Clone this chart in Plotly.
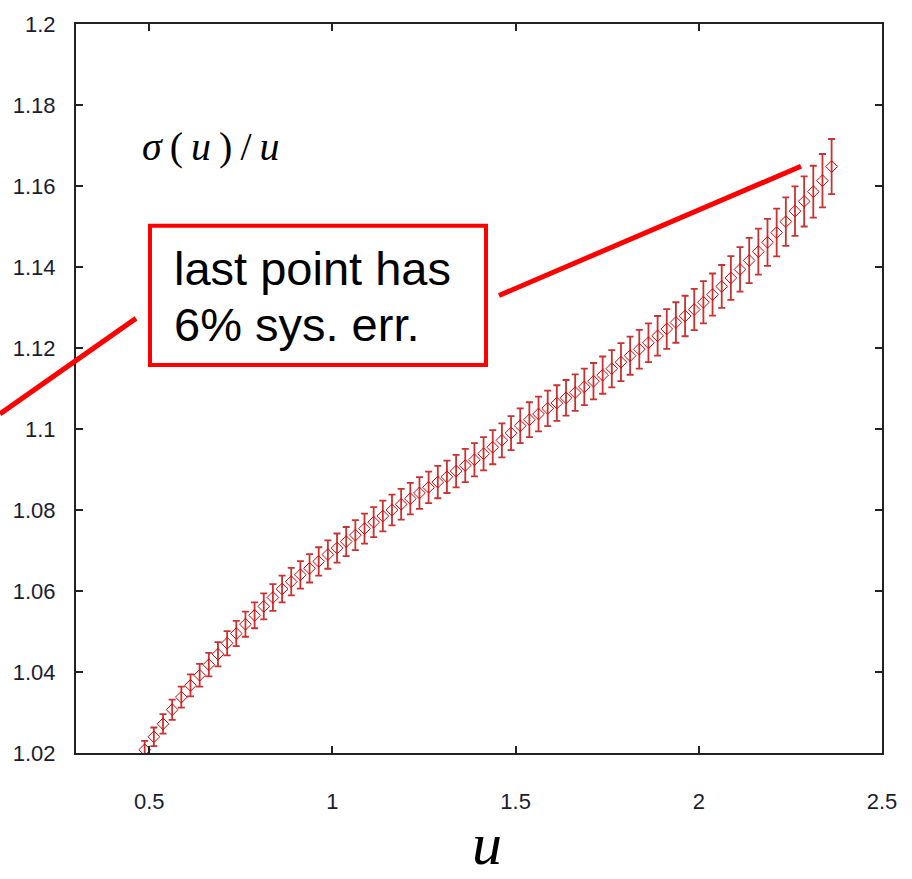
import plotly.graph_objects as go

u_vals = [0.4875, 0.5125, 0.5375, 0.5625, 0.5875, 0.6125, 0.6375, 0.6625, 0.6875, 0.7125,
          0.7375, 0.7625, 0.7875, 0.8125, 0.8375, 0.8625, 0.8875, 0.9125, 0.9375, 0.9625,
          0.9875, 1.0125, 1.0375, 1.0625, 1.0875, 1.1125, 1.1375, 1.1625, 1.1875, 1.2125,
          1.2375, 1.2625, 1.2875, 1.3125, 1.3375, 1.3625, 1.3875, 1.4125, 1.4375, 1.4625,
          1.4875, 1.5125, 1.5375, 1.5625, 1.5875, 1.6125, 1.6375, 1.6625, 1.6875, 1.7125,
          1.7375, 1.7625, 1.7875, 1.8125, 1.8375, 1.8625, 1.8875, 1.9125, 1.9375, 1.9625,
          1.9875, 2.0125, 2.0375, 2.0625, 2.0875, 2.1125, 2.1375, 2.1625, 2.1875, 2.2125,
          2.2375, 2.2625, 2.2875, 2.3125, 2.3375, 2.3625]

sigma_over_u = [1.0208, 1.0240, 1.0272, 1.0307, 1.0338, 1.0367, 1.0392, 1.0418, 1.0444, 1.0471,
                1.0495, 1.0518, 1.0540, 1.0562, 1.0584, 1.0605, 1.0623, 1.0640, 1.0656, 1.0673,
                1.0690, 1.0706, 1.0722, 1.0738, 1.0754, 1.0770, 1.0785, 1.0800, 1.0814, 1.0828,
                1.0842, 1.0856, 1.0869, 1.0882, 1.0896, 1.0910, 1.0924, 1.0939, 1.0955, 1.0972,
                1.0990, 1.1008, 1.1023, 1.1037, 1.1051, 1.1064, 1.1077, 1.1090, 1.1104, 1.1118,
                1.1133, 1.1149, 1.1165, 1.1181, 1.1197, 1.1213, 1.1230, 1.1247, 1.1263, 1.1279,
                1.1295, 1.1313, 1.1332, 1.1352, 1.1373, 1.1394, 1.1416, 1.1438, 1.1461, 1.1485,
                1.1512, 1.1538, 1.1562, 1.1586, 1.1613, 1.1648]

errors = [0.0022, 0.0023, 0.0024, 0.0025, 0.0026, 0.0027, 0.0028, 0.0029, 0.0030, 0.0030,
          0.0031, 0.0031, 0.0032, 0.0032, 0.0033, 0.0033, 0.0034, 0.0034, 0.0035, 0.0035,
          0.0035, 0.0036, 0.0036, 0.0037, 0.0037, 0.0037, 0.0038, 0.0038, 0.0038, 0.0039,
          0.0039, 0.0039, 0.0040, 0.0040, 0.0040, 0.0041, 0.0041, 0.0041, 0.0042, 0.0042,
          0.0042, 0.0043, 0.0043, 0.0043, 0.0044, 0.0044, 0.0044, 0.0045, 0.0045, 0.0045,
          0.0046, 0.0046, 0.0047, 0.0047, 0.0048, 0.0048, 0.0049, 0.0049, 0.0050, 0.0050,
          0.0051, 0.0052, 0.0052, 0.0053, 0.0054, 0.0055, 0.0056, 0.0057, 0.0058, 0.0059,
          0.0060, 0.0061, 0.0062, 0.0064, 0.0066, 0.0068]

x_ticks = [0.5, 1, 1.5, 2, 2.5]
y_ticks = [1.02, 1.04, 1.06, 1.08, 1.1, 1.12, 1.14, 1.16, 1.18, 1.2]

tick_font = dict(family="Liberation Sans Narrow, Liberation Sans, Arial, sans-serif",
                 size=22, color="#1c1c2e")

fig = go.Figure()
fig.add_trace(go.Scatter(
    x=u_vals, y=sigma_over_u, mode="markers",
    marker=dict(symbol="diamond-open", size=9, color="#e00000", line=dict(width=1, color="#e00000")),
    error_y=dict(type="data", array=errors, visible=True, color="#c83232", thickness=1.8, width=3.5),
    showlegend=False,
))

fig.update_layout(
    width=912, height=879,
    margin=dict(l=76, r=30, t=20, b=126),
    paper_bgcolor="white", plot_bgcolor="white",
    xaxis=dict(range=[0.3, 2.5], tickvals=x_ticks, ticks="inside", ticklen=7, tickwidth=2,
               tickcolor="#222", showline=True, linecolor="#222", linewidth=2, mirror="ticks",
               showgrid=False, zeroline=False, tickfont=tick_font, ticklabelstandoff=28),
    yaxis=dict(range=[1.02, 1.2], tickvals=y_ticks, ticks="inside", ticklen=7, tickwidth=2,
               tickcolor="#222", showline=True, linecolor="#222", linewidth=2, mirror="ticks",
               showgrid=False, zeroline=False, tickfont=tick_font, ticklabelstandoff=14),
)

red = "#ff0000"
fig.add_shape(type="rect", xref="paper", yref="paper", x0=0.0918, x1=0.5087, y0=0.5321, y1=0.7231,
              line=dict(color=red, width=4), fillcolor="rgba(0,0,0,0)", layer="above")
fig.add_shape(type="line", xref="paper", yref="paper", x0=-0.0943, y0=0.4652, x1=0.0744, y1=0.5962,
              line=dict(color=red, width=5), layer="above")
fig.add_shape(type="line", xref="paper", yref="paper", x0=0.5248, y0=0.6276, x1=0.8995, y1=0.8049,
              line=dict(color=red, width=5), layer="above")

box_font = dict(family="Liberation Sans, Arial, sans-serif", size=47, color="black")
fig.add_annotation(xref="paper", yref="paper", x=0.1191, y=0.6644, xanchor="left", yanchor="middle",
                   text="last point has", showarrow=False, font=box_font)
fig.add_annotation(xref="paper", yref="paper", x=0.1191, y=0.588, xanchor="left", yanchor="middle",
                   text="6% sys. err.", showarrow=False, font=box_font)

serif = "Liberation Serif, DejaVu Serif, serif"
sp = "\u2009"
fig.add_annotation(xref="paper", yref="paper", x=0.1675, y=0.8322, xanchor="center", yanchor="middle",
                   text=f"<i>σ</i>{sp}({sp}<i>u</i>{sp}){sp}/{sp}<i>u</i>", showarrow=False,
                   font=dict(family=serif, size=40, color="black"))
fig.add_annotation(xref="paper", yref="paper", x=0.51, y=-0.1255, xanchor="center", yanchor="middle",
                   text="<i>u</i>", showarrow=False,
                   font=dict(family=serif, size=60, color="black"))

fig.write_html("out.html")
